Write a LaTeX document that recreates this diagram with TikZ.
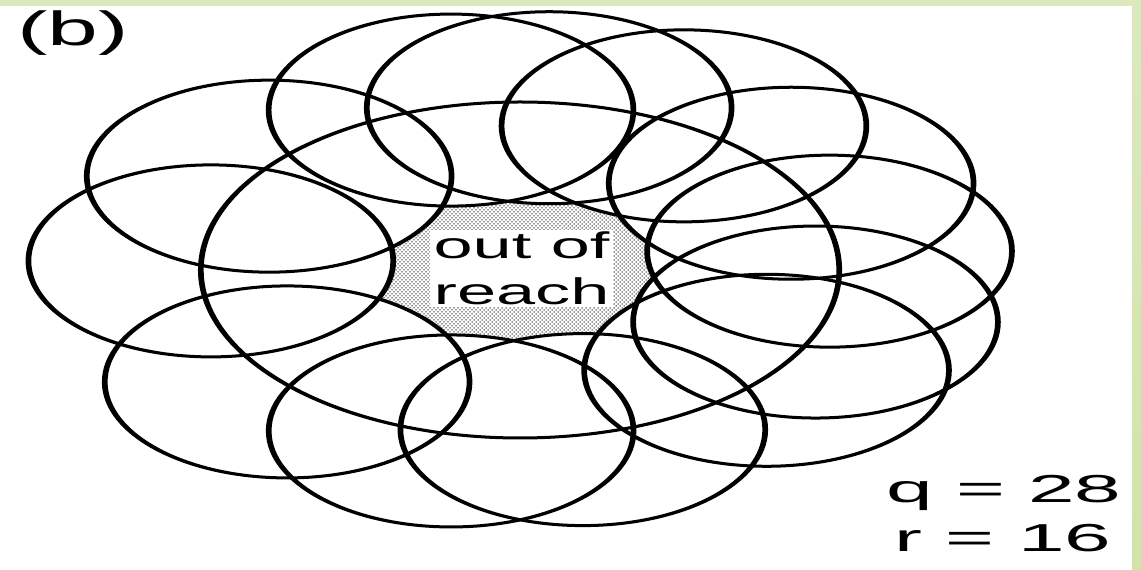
\documentclass[tikz,border=0pt]{standalone}
\usepackage{fontspec}
\setmainfont{Liberation Sans}
\usetikzlibrary{patterns}
\definecolor{bandgreen}{HTML}{DDE8BF}
\definecolor{banddeep}{HTML}{D3E3A9}
% angle/distance of each small circle, seen from the hub
\newcommand{\ringlist}{144.6/162, 102.8/164, 84.6/163, 59.1/168, 31.3/167, 6.6/164, -18.5/164, -37.7/164, -78.3/163, -102.7/165, -137.6/166, 176.8/163}
\pgfdeclarepatternformonly{stipple}{\pgfqpoint{-1pt}{-1pt}}{\pgfqpoint{5pt}{5pt}}{\pgfqpoint{4pt}{4pt}}{
    \pgfpathcircle{\pgfqpoint{0pt}{0pt}}{0.75pt}
    \pgfpathcircle{\pgfqpoint{2pt}{2pt}}{0.75pt}
    \pgfusepath{fill}
}

\begin{document}
\begin{tikzpicture}[x=1pt,y=1pt,ring/.style={line width=3pt},every node/.style={inner sep=2pt}]
\useasboundingbox (0,0) rectangle (1141,570);
\fill[bandgreen] (0,564) rectangle (1141,570);
\shade[top color=bandgreen,bottom color=banddeep] (1132,0) rectangle (1141,564);
\begin{scope}[transform canvas={xscale=1.9}]
    \coordinate (hub) at (273.7,300);
    \foreach \a/\d [count=\i] in \ringlist
        \path (hub) ++(\a:\d) coordinate (c\i);
    % the part nobody reaches
    \fill[pattern=stipple,pattern color=black!85] (hub) circle (168);
    \foreach \i in {1,...,12}
        \fill[white] (c\i) circle (96);
    \draw[ring] (hub) circle (168);
    \foreach \i in {1,...,12}
        \draw[ring] (c\i) circle (96);
    \node[fill=white,align=center,font=\fontsize{37}{46}\selectfont] (gap) at (274.5,301.5) {out of\\reach};
    \node[anchor=base,font=\fontsize{48}{48}\selectfont] (tag) at (38.4,524) {(b)};
    \node[anchor=base,xscale=1.13,font=\fontsize{39}{39}\selectfont] (qval) at (528.4,67) {q = 28};
    \node[anchor=base,xscale=1.13,font=\fontsize{39}{39}\selectfont] (rval) at (527.9,18) {r = 16};
\end{scope}
\end{tikzpicture}
\end{document}
